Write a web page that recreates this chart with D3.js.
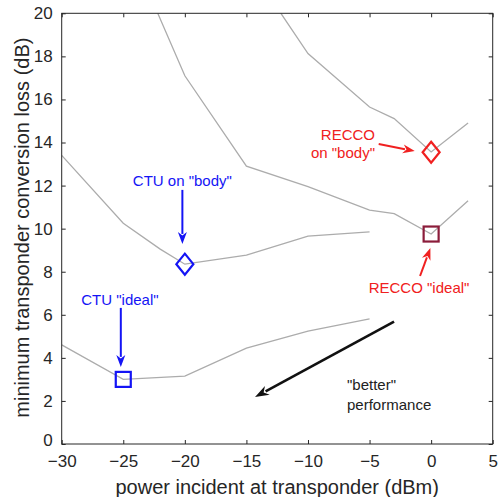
<!DOCTYPE html>
<html><head><meta charset="utf-8">
<script src="https://cdn.jsdelivr.net/npm/d3@7"></script>
<style>
html,body{margin:0;padding:0;background:#fff;}
svg text{font-family:"Liberation Sans",Arial,Helvetica,sans-serif;}
</style></head>
<body>
<svg id="chart" width="498" height="497"></svg>
<script>
// ---- data ----
const xTicks = [-30, -25, -20, -15, -10, -5, 0, 5];
const yTicks = [0, 2, 4, 6, 8, 10, 12, 14, 16, 18, 20];

const ctuIdealX = [-30, -25, -20, -15, -10, -5];
const ctuIdealY = [4.6, 3.0, 3.15, 4.45, 5.24, 5.81];

const ctuBodyX = [-30, -25, -22, -20, -15, -10, -5];
const ctuBodyY = [13.4, 10.25, 9.05, 8.35, 8.77, 9.65, 9.85];

const reccoIdealX = [-22.2, -20, -15, -10, -5, -3, 0, 3];
const reccoIdealY = [20, 17.1, 12.9, 11.95, 10.86, 10.7, 9.75, 11.3];

const reccoBodyX = [-12.2, -10, -5, -3, 0, 3];
const reccoBodyY = [20, 18.13, 15.65, 15.11, 13.56, 14.91];

const markerNames = ["CTU ideal", "CTU body", "RECCO body", "RECCO ideal"];
const markerX = [-25, -20, 0, 0];
const markerY = [3.0, 8.35, 13.55, 9.75];
const markerShape = ["square", "diamond", "diamond", "square"];
const markerColor = ["#1414f5", "#1414f5", "#f02020", "#8b1c3a"];

const labelText = ['CTU on "body"', 'CTU "ideal"', 'RECCO', 'on "body"', 'RECCO "ideal"', '"better"', 'performance'];
const labelX = [-20.2, -25.27, -4.56, -4.56, -0.98, -6.83, -6.83];
const labelY = [11.98, 6.45, 14.12, 13.28, 7.01, 2.51, 1.58];
const labelAnchor = ["middle", "middle", "end", "end", "middle", "start", "start"];
const labelColor = ["#1414f5", "#1414f5", "#f02020", "#f02020", "#f02020", "#222", "#222"];

const arrowFromX = [-20.2, -25.2, -4.26, -0.9, -3.01];
const arrowFromY = [11.8, 6.32, 13.93, 7.8, 5.68];
const arrowToX = [-20.2, -25.2, -1.33, -0.06, -14.3];
const arrowToY = [9.29, 3.58, 13.6, 9.1, 2.18];
const arrowColor = ["#1414f5", "#1414f5", "#f02020", "#f02020", "#111"];
const arrowWidth = [2, 2, 2, 2, 2.6];

// ---- layout ----
const svg = d3.select("#chart");
const L = 61.7, R = 492.7, T = 13.3, B = 444;
const x = d3.scaleLinear().domain([-30, 5]).range([L, R]);
const y = d3.scaleLinear().domain([0, 20]).range([B, T]);
const axisColor = "#262626";

svg.append("defs").append("clipPath").attr("id", "clip")
  .append("rect").attr("x", L).attr("y", T).attr("width", R - L).attr("height", B - T);

const g = svg.append("g");

// curves
const curves = [[ctuIdealX, ctuIdealY], [ctuBodyX, ctuBodyY], [reccoIdealX, reccoIdealY], [reccoBodyX, reccoBodyY]];
const line = d3.line().x(d => x(d[0])).y(d => y(d[1]));
g.append("g").attr("clip-path", "url(#clip)")
  .selectAll("path.curve").data(curves).join("path")
  .attr("class", "curve")
  .attr("d", c => line(c[0].map((v, i) => [v, c[1][i]])))
  .attr("fill", "none").attr("stroke", "#acacac").attr("stroke-width", 1.3);

// axes
const axB = d3.axisBottom(x).tickValues(xTicks).tickSize(-4).tickPadding(11).tickFormat(d3.format("d"));
const axT = d3.axisTop(x).tickValues(xTicks).tickSize(-4).tickFormat("");
const axLft = d3.axisLeft(y).tickValues(yTicks).tickSize(-4).tickPadding(9).tickFormat(d3.format("d"));
const axRt = d3.axisRight(y).tickValues(yTicks).tickSize(-4).tickFormat("");

function style(sel) {
  sel.selectAll("path.domain").attr("stroke", axisColor).attr("stroke-width", 1);
  sel.selectAll(".tick line").attr("stroke", axisColor).attr("stroke-width", 1);
  sel.selectAll(".tick text").attr("fill", axisColor).style("font-size", "17px")
    .style("font-family", '"Liberation Sans",Arial,sans-serif');
}
g.append("g").attr("transform", `translate(0,${B})`).call(axB).call(style)
  .selectAll(".tick text").attr("dy", "0.71em");
g.append("g").attr("transform", `translate(0,${T})`).call(axT).call(style);
const yl = g.append("g").attr("transform", `translate(${L},0)`).call(axLft).call(style);
yl.selectAll(".tick text").filter(d => d === 0).attr("dy", "0.1em");
g.append("g").attr("transform", `translate(${R},0)`).call(axRt).call(style);
g.selectAll("path.domain").attr("d", null);
g.append("rect").attr("x", L).attr("y", T).attr("width", R - L).attr("height", B - T)
  .attr("fill", "none").attr("stroke", axisColor).attr("stroke-width", 1);

// axis titles
g.append("text").attr("x", (L + R) / 2).attr("y", 494).attr("text-anchor", "middle")
  .attr("fill", axisColor).style("font-size", "20px").text("power incident at transponder (dBm)");
g.append("text").attr("transform", `translate(28.5,${(T + B) / 2 - 1}) rotate(-90)`).attr("text-anchor", "middle")
  .attr("fill", axisColor).style("font-size", "20px").text("minimum transponder conversion loss (dB)");

// markers
markerX.forEach((mx, i) => {
  const cx = x(mx), cy = y(markerY[i]);
  if (markerShape[i] === "square") {
    g.append("rect").attr("x", cx - 7.5).attr("y", cy - 7.5).attr("width", 15).attr("height", 15)
      .attr("fill", "none").attr("stroke", markerColor[i]).attr("stroke-width", 2.2);
  } else {
    g.append("path").attr("d", `M${cx},${cy - 10.5}L${cx + 8.5},${cy}L${cx},${cy + 10.5}L${cx - 8.5},${cy}Z`)
      .attr("fill", "none").attr("stroke", markerColor[i]).attr("stroke-width", 2.2);
  }
});

// arrows
arrowFromX.forEach((fx, i) => {
  const x1 = x(fx), y1 = y(arrowFromY[i]), x2 = x(arrowToX[i]), y2 = y(arrowToY[i]);
  const ang = Math.atan2(y2 - y1, x2 - x1);
  const hl = i === 4 ? 14 : 12, hw = i === 4 ? 5 : 4.5;
  const bx = x2 - hl * Math.cos(ang), by = y2 - hl * Math.sin(ang);
  const px = -Math.sin(ang), py = Math.cos(ang);
  g.append("line").attr("x1", x1).attr("y1", y1).attr("x2", bx + 2 * Math.cos(ang)).attr("y2", by + 2 * Math.sin(ang))
    .attr("stroke", arrowColor[i]).attr("stroke-width", arrowWidth[i]);
  g.append("path").attr("d", `M${x2},${y2}L${bx + hw * px},${by + hw * py}L${bx + 0.3 * hl * Math.cos(ang)},${by + 0.3 * hl * Math.sin(ang)}L${bx - hw * px},${by - hw * py}Z`)
    .attr("fill", arrowColor[i]);
});

// labels
labelText.forEach((t, i) => {
  g.append("text").attr("x", x(labelX[i])).attr("y", y(labelY[i])).attr("text-anchor", labelAnchor[i])
    .attr("fill", labelColor[i]).style("font-size", "15px").text(t);
});
</script>
</body></html>
